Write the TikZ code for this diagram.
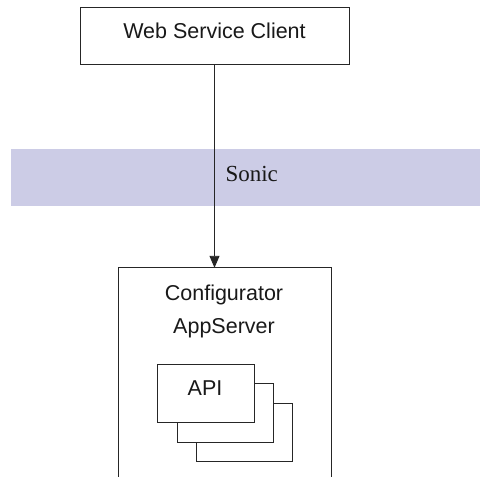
\documentclass[tikz,border=0pt]{standalone}
\usepackage{fontspec}
\setmainfont{Liberation Sans}
\newfontfamily\seriffont{Liberation Serif}
\usetikzlibrary{arrows.meta}
\definecolor{bandcol}{RGB}{204,204,230}
\begin{document}
\begin{tikzpicture}[x=1pt,y=-1pt,
  box/.style={draw=black!85, line width=0.9pt, fill=white, inner sep=0pt},
  lbl/.style={font=\fontsize{21.5}{33}\selectfont, align=center, text=black!90}]
\useasboundingbox (0,0) rectangle (480,477);
% band
\fill[bandcol] (11,149) rectangle (480,206);
\node[anchor=west, font=\seriffont\fontsize{23}{28}\selectfont, text=black!90] (sonic) at (222,174) {Sonic};
% top client box
\node[box, minimum width=269pt, minimum height=57pt] (wsc) at (214.5,35.5) {};
\node[lbl] (wsctxt) at (214.5,30.5) {Web Service Client};
% configurator box (open at bottom)
\node[minimum width=212pt, minimum height=210pt, inner sep=0pt] (cfg) at (225,373) {};
\draw[line width=0.9pt, draw=black!85] (cfg.south west) -- (cfg.north west) -- (cfg.north east) -- (cfg.south east);
\node[lbl] (cfgtxt) at (224,311) {Configurator\\AppServer};
% API stack
\node[box, minimum width=96pt, minimum height=58pt] (api3) at (244,432) {};
\node[box, minimum width=96pt, minimum height=59pt] (api2) at (225,412.5) {};
\node[box, minimum width=97pt, minimum height=58pt, anchor=north] (api1) at (205.5,364) {};
\node[lbl] (apitxt) at (205,388) {API};
% connector
\draw[line width=0.9pt, draw=black!85, -{Triangle[length=12pt,width=10pt]}] (wsc.south) -- (wsc.south |- cfg.north);
\end{tikzpicture}
\end{document}
